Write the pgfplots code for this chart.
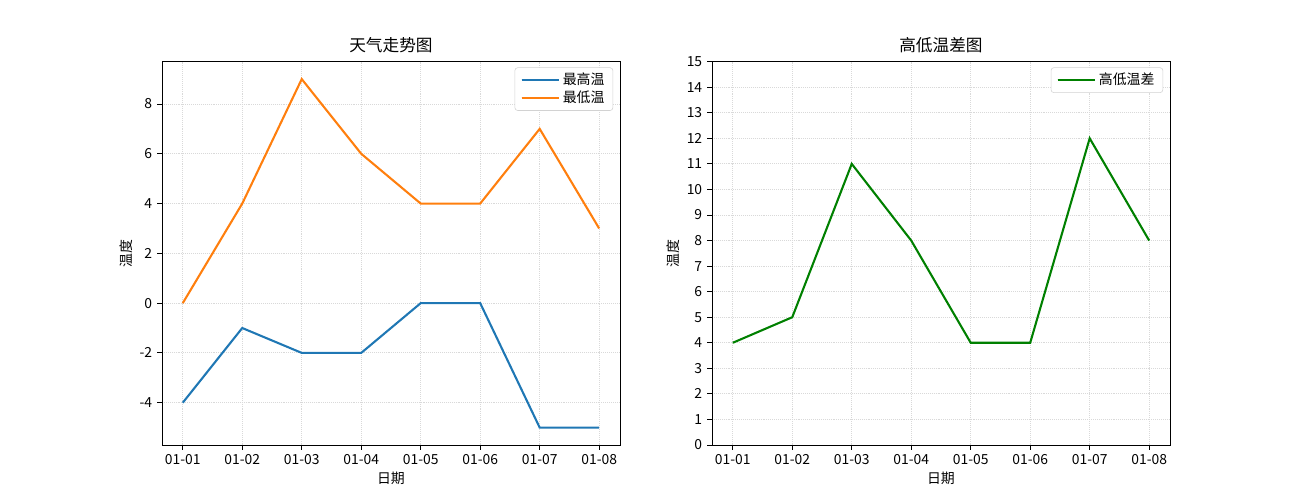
\documentclass[border=0pt]{standalone}
\usepackage{fontspec}
\setmainfont{Noto Sans CJK SC}
\usepackage{pgfplots}
\pgfplotsset{compat=1.18}

\definecolor{mplblue}{HTML}{1F77B4}
\definecolor{mplorange}{HTML}{FF7F0E}
\definecolor{mplgreen}{HTML}{008000}

\pgfplotsset{
  common/.style={
    scale only axis,
    width=329.8pt, height=276pt,
    xmin=-0.35, xmax=7.35,
    xtick={0,...,7},
    xticklabels={01-01,01-02,01-03,01-04,01-05,01-06,01-07,01-08},
    xlabel={日期}, ylabel={温度},
    grid=major,
    grid style={densely dotted, gray!30, line width=0.6pt},
    tick align=outside,
    tick pos=left,
    major tick length=3.5pt,
    tick style={black, line width=0.6pt},
    axis line style={line width=0.6pt},
    ticklabel style={font=\fontsize{10}{12}\selectfont},
    label style={font=\fontsize{10}{12}\selectfont},
    title style={font=\fontsize{12}{14}\selectfont, yshift=-3pt},
    /pgf/number format/assume math mode=true,
    legend cell align=left,
    legend style={at={(0.985,0.985)}, anchor=north east,
      draw=gray!35, rounded corners=2pt, inner xsep=4pt,
      font=\fontsize{10}{12}\selectfont, row sep=-1pt},
    legend image code/.code={
      \draw[#1, line width=1.5pt] (0pt,0pt) -- (21pt,0pt);
      \path (0pt,0pt) -- (27pt,0pt);
    },
    xlabel style={yshift=2pt},
    ylabel style={yshift=-2pt},
  }
}

\begin{document}
\begin{tikzpicture}[x=1pt,y=1pt]
\path (0,0) rectangle (936,360);
\begin{axis}[common,
  at={(116.6pt,39.6pt)}, anchor=south west,
  title={天气走势图},
  ymin=-5.7, ymax=9.7,
  ytick={-4,-2,0,2,4,6,8},
]
\addplot[mplblue, line width=1.5pt] coordinates {
  (0,-4) (1,-1) (2,-2) (3,-2) (4,0) (5,0) (6,-5) (7,-5)
};
\addlegendentry{最高温}
\addplot[mplorange, line width=1.5pt] coordinates {
  (0,0) (1,4) (2,9) (3,6) (4,4) (5,4) (6,7) (7,3)
};
\addlegendentry{最低温}
\end{axis}
\begin{axis}[common,
  at={(512.6pt,39.6pt)}, anchor=south west,
  title={高低温差图},
  ymin=0, ymax=15,
  ytick={0,...,15},
]
\addplot[mplgreen, line width=1.5pt] coordinates {
  (0,4) (1,5) (2,11) (3,8) (4,4) (5,4) (6,12) (7,8)
};
\addlegendentry{高低温差}
\end{axis}
\end{tikzpicture}
\end{document}
